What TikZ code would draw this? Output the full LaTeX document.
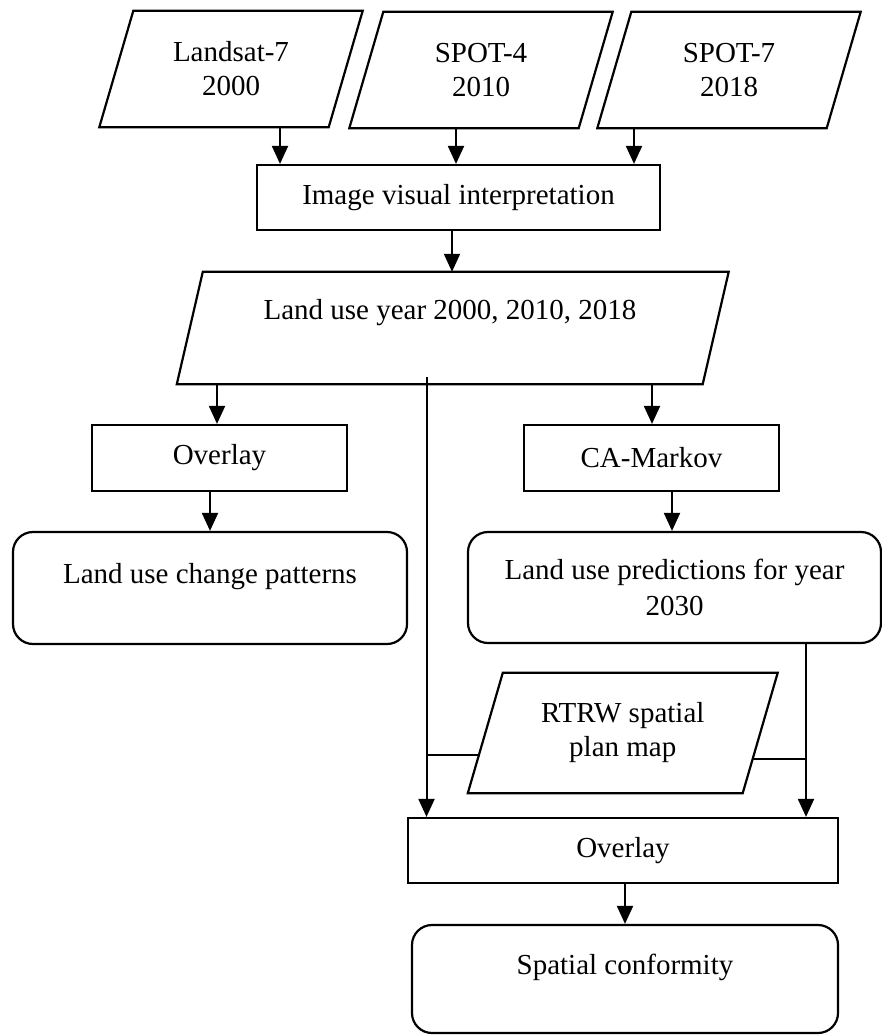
\documentclass[tikz,border=0pt]{standalone}
\usepackage{fontspec}
\setmainfont{Liberation Serif}
\usetikzlibrary{arrows.meta,calc}
\begin{document}
\begin{tikzpicture}[x=1bp,y=-1bp,
  every node/.style={font=\fontsize{29bp}{34bp}\selectfont, align=center, inner sep=0pt},
  rectbox/.style n args={2}{draw, line width=2.2bp, minimum width=#1, minimum height=#2},
  roundbox/.style n args={2}{draw, line width=2.2bp, minimum width=#1, minimum height=#2, rounded corners=20bp},
  paraframe/.style n args={2}{minimum width=#1, minimum height=#2},
  outline/.style={line width=2.2bp, line join=miter},
  conn/.style={line width=2bp, -{Triangle[length=18bp,width=16bp]}},
  plain/.style={line width=2bp}]
\useasboundingbox (0,0) rectangle (882,1035);

% top parallelograms
\node[paraframe={229bp}{116bp}] (l7) at (231,69) {Landsat-7\\2000};
\node[paraframe={229bp}{116bp}] (s4) at (481,70) {SPOT-4\\2010};
\node[paraframe={229bp}{116bp}] (s7) at (729,70) {SPOT-7\\2018};
\foreach \n in {l7,s4,s7}{
  \draw[outline] ([xshift=17bp]\n.north west) -- ([xshift=17bp]\n.north east)
    -- ([xshift=-17bp]\n.south east) -- ([xshift=-17bp]\n.south west) -- cycle;
}

\node[rectbox={403bp}{65bp}] (ivi) at (458.5,197.5) {Image visual interpretation};

% land use parallelogram
\node[paraframe={525.5bp}{112bp}] (lu) at (452.75,328) {};
\draw[outline] ([xshift=13bp]lu.north west) -- ([xshift=13bp]lu.north east)
  -- ([xshift=-13bp]lu.south east) -- ([xshift=-13bp]lu.south west) -- cycle;
\node (lut) at (450,313) {Land use year 2000, 2010, 2018};

\node[rectbox={255bp}{66bp}] (ov1) at (219.5,458) {Overlay};
\node[rectbox={255bp}{66bp}] (ca) at (651.5,458) {CA-Markov};

\node[roundbox={394bp}{112bp}] (lucp) at (210,588) {};
\node (lucpt) at (210,577) {Land use change patterns};
\node[roundbox={413bp}{111bp}] (pred) at (674.5,587.5) {Land use predictions for year\\[2bp]2030};

% RTRW parallelogram
\node[paraframe={274.5bp}{120bp}] (rt) at (622.75,733) {RTRW spatial\\plan map};
\draw[outline] ([xshift=17.5bp]rt.north west) -- ([xshift=17.5bp]rt.north east)
  -- ([xshift=-17.5bp]rt.south east) -- ([xshift=-17.5bp]rt.south west) -- cycle;
\coordinate (rtl) at ($([xshift=17.5bp]rt.north west)!0.683!([xshift=-17.5bp]rt.south west)$);
\coordinate (rtr) at ($([xshift=17.5bp]rt.north east)!0.717!([xshift=-17.5bp]rt.south east)$);

\node[rectbox={430bp}{65bp}] (ov2) at (623,850.5) {Overlay};
\node[roundbox={426bp}{108bp}] (sc) at (625,979) {};
\node (sct) at (625,967) {Spatial conformity};

% connectors
\draw[conn] (l7.south -| 280,0) -- (ivi.north -| 280,0);
\draw[conn] (s4.south -| 456,0) -- (ivi.north -| 456,0);
\draw[conn] (s7.south -| 634,0) -- (ivi.north -| 634,0);
\draw[conn] (ivi.south -| 452,0) -- (lu.north -| 452,0);
\draw[conn] (lu.south -| 217,0) -- (ov1.north -| 217,0);
\draw[conn] (lu.south -| 652,0) -- (ca.north -| 652,0);
\draw[conn] (ov1.south -| 210,0) -- (lucp.north -| 210,0);
\draw[conn] (ca.south -| 672,0) -- (pred.north -| 672,0);
\coordinate (lstart) at (426.5,377);
\draw[conn] (lstart) -- (ov2.north -| lstart);
\draw[plain] (rtl) -- (rtl -| lstart);
\coordinate (rx) at (806,0);
\draw[conn] (pred.south -| rx) -- (ov2.north -| rx);
\draw[plain] (rtr) -- (rtr -| rx);
\draw[conn] (ov2.south -| 625,0) -- (sc.north -| 625,0);
\end{tikzpicture}
\end{document}
